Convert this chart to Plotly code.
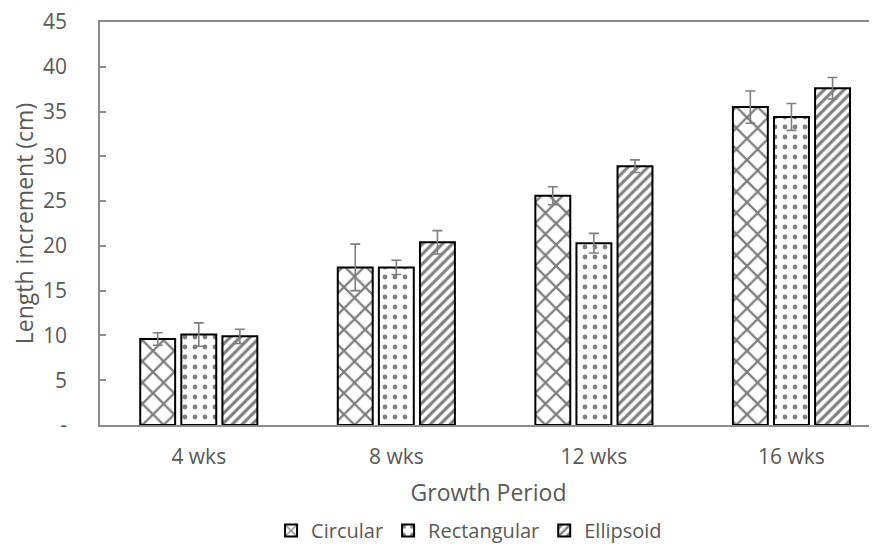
import plotly.graph_objects as go

categories = ["4 wks", "8 wks", "12 wks", "16 wks"]
series_names = ["Circular", "Rectangular", "Ellipsoid"]
circular = [9.6, 17.6, 25.6, 35.5]
circular_err = [0.7, 2.6, 1.0, 1.8]
rectangular = [10.1, 17.6, 20.3, 34.4]
rectangular_err = [1.3, 0.8, 1.1, 1.5]
ellipsoid = [9.9, 20.4, 28.9, 37.6]
ellipsoid_err = [0.8, 1.3, 0.7, 1.2]
y_tickvals = [0, 5, 10, 15, 20, 25, 30, 35, 40, 45]
y_ticktext = ["-", "5", "10", "15", "20", "25", "30", "35", "40", "45"]

FONT = "Open Sans"
TXT = "#595959"
AX = "#8c8c8c"

patterns = [
    dict(shape="x", fgcolor="black", bgcolor="white", size=15, solidity=0.28),
    dict(shape=".", fgcolor="black", bgcolor="white", size=10, solidity=0.18),
    dict(shape="/", fgcolor="black", bgcolor="white", size=7, solidity=0.45),
]

fig = go.Figure()
for name, vals, errs, pat in zip(series_names,
                                 [circular, rectangular, ellipsoid],
                                 [circular_err, rectangular_err, ellipsoid_err],
                                 patterns):
    fig.add_trace(go.Bar(
        x=categories, y=vals, name=name,
        marker=dict(color="white", pattern=pat, line=dict(color="black", width=2)),
        error_y=dict(type="data", array=errs, visible=True, color="#7f7f7f",
                     thickness=1.6, width=5),
    ))

fig.update_layout(
    width=869, height=540,
    margin=dict(l=92, r=0, t=14, b=123, autoexpand=False),
    paper_bgcolor="white", plot_bgcolor="white",
    barmode="group", bargap=0.376, bargroupgap=0.15,
    font=dict(family=FONT, color=TXT, size=20),
    showlegend=True,
    legend=dict(orientation="h", x=0.475, xanchor="center", y=-0.262, yanchor="middle",
                font=dict(size=20, color=TXT), itemsizing="constant",
                traceorder="normal", itemwidth=30),
    xaxis=dict(
        range=[-0.5, 3.433], showline=True, linecolor=AX, linewidth=1.5, mirror=True,
        ticks="", showgrid=False, tickfont=dict(size=21, color=TXT), automargin=False,
        ticklabelstandoff=12,
        title=dict(text="Growth Period", font=dict(size=23, color=TXT), standoff=16),
    ),
    yaxis=dict(
        range=[0, 45], tickvals=y_tickvals, ticktext=y_ticktext,
        showline=True, linecolor=AX, linewidth=1.5, ticks="inside", ticklen=6,
        tickcolor=AX, tickwidth=1.5, showgrid=False, zeroline=False, automargin=False,
        ticklabelstandoff=27, ticklabeloverflow="allow",
        tickfont=dict(size=21, color=TXT),
        title=dict(text="Length increment (cm)", font=dict(size=23, color=TXT), standoff=15),
    ),
)

fig.write_html("out.html")
